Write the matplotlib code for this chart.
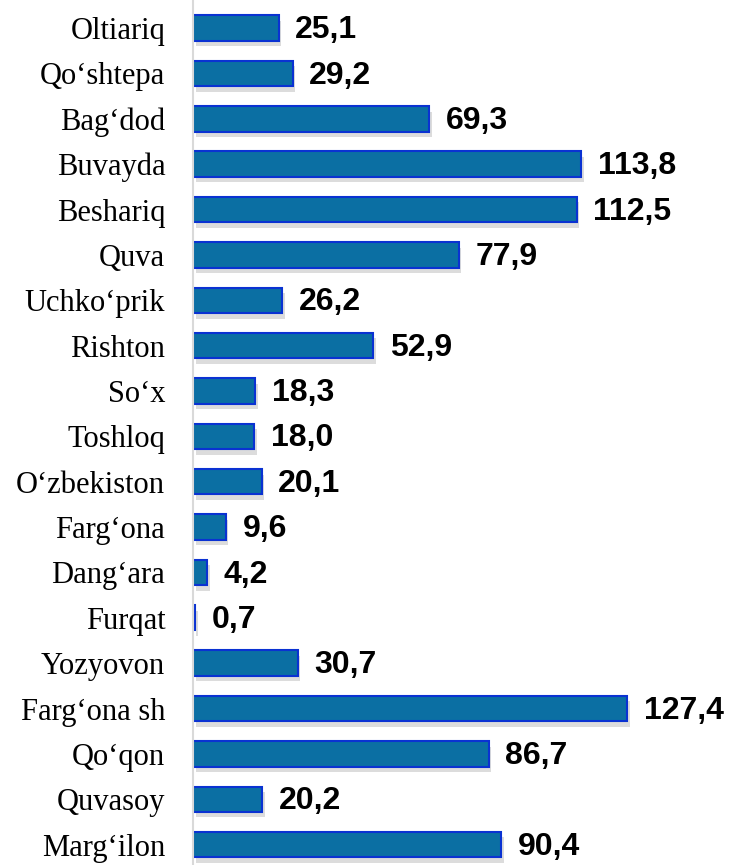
import matplotlib.pyplot as plt
import matplotlib.patheffects as pe

districts = ["Oltiariq", "Qo\u2018shtepa", "Bag\u2018dod", "Buvayda", "Beshariq", "Quva",
             "Uchko\u2018prik", "Rishton", "So\u2018x", "Toshloq", "O\u2018zbekiston",
             "Farg\u2018ona", "Dang\u2018ara", "Furqat", "Yozyovon", "Farg\u2018ona sh",
             "Qo\u2018qon", "Quvasoy", "Marg\u2018ilon"]
values = [25.1, 29.2, 69.3, 113.8, 112.5, 77.9, 26.2, 52.9, 18.3, 18.0, 20.1,
          9.6, 4.2, 0.7, 30.7, 127.4, 86.7, 20.2, 90.4]

fig = plt.figure(figsize=(7.31, 8.65), dpi=100)
ax = fig.add_axes([0.264, 0.0, 0.736, 1.0])

pos = list(range(len(districts)))
bars = ax.barh(pos, values, height=0.56, color="#0b6fa3", edgecolor="#0a32d2",
               linewidth=1.5)
for b in bars:
    b.set_path_effects([pe.SimplePatchShadow(offset=(2, -4), shadow_rgbFace="#777777", alpha=0.25),
                        pe.Normal()])

for p, v in zip(pos, values):
    ax.annotate(f"{v:.1f}".replace(".", ","), (v, p), xytext=(12, -1.5),
                textcoords="offset points", va="center", ha="left",
                fontsize=23, fontweight="bold", family="Liberation Sans")

ax.set_yticks(pos)
ax.set_yticklabels(districts, family="Liberation Serif", fontsize=22)
ax.tick_params(axis="y", length=0, pad=20)
ax.set_xticks([])
ax.set_xlim(0, 157.8)
ax.set_ylim(18.45, -0.62)
for s in ["top", "right", "bottom"]:
    ax.spines[s].set_visible(False)
ax.spines["left"].set_color("#d9d9d9")
ax.spines["left"].set_linewidth(1.5)

fig.savefig("out.png", dpi=100)
